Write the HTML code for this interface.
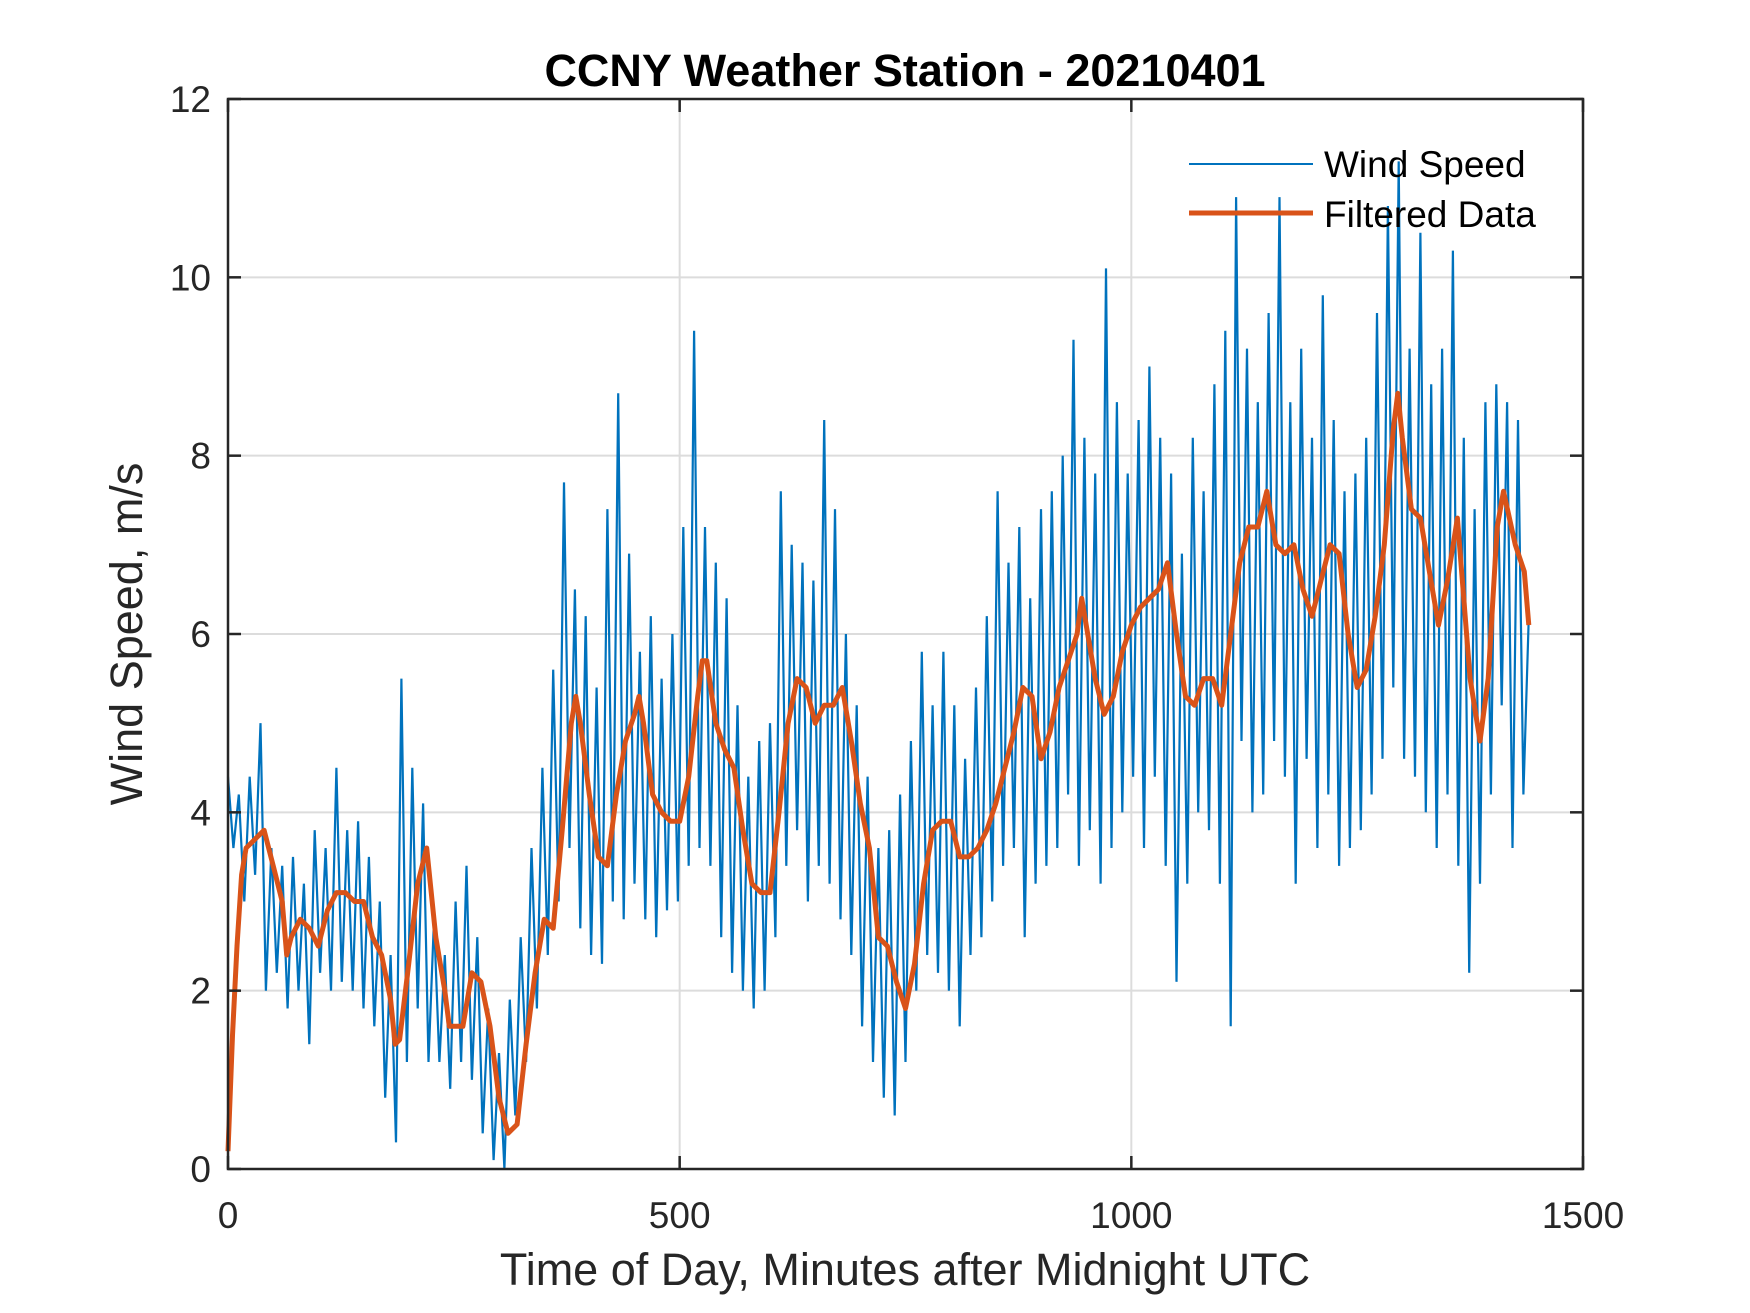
<!DOCTYPE html>
<html><head><meta charset="utf-8"><style>
html,body{margin:0;padding:0;background:#fff;}
svg{display:block;font-family:"Liberation Sans",Arial,sans-serif;}
</style></head><body>
<svg id="chart" width="1750" height="1313" viewBox="0 0 1750 1313">
<rect x="0" y="0" width="1750" height="1313" fill="#fff"/>
<g id="grid"></g>
<g id="series"></g>
<g id="axes"></g>
<text x="905" y="86" text-anchor="middle" font-size="45" font-weight="bold" fill="#000">CCNY Weather Station - 20210401</text>
<text x="905" y="1285" text-anchor="middle" font-size="45" fill="#262626">Time of Day, Minutes after Midnight UTC</text>
<text x="0" y="0" transform="translate(142,634) rotate(-90)" text-anchor="middle" font-size="45" fill="#262626">Wind Speed, m/s</text>
<g>
<line x1="1189" y1="164" x2="1313" y2="164" stroke="#0072BD" stroke-width="2"/>
<text x="1324" y="177" font-size="37" fill="#000">Wind Speed</text>
<line x1="1189" y1="213" x2="1313" y2="213" stroke="#D95319" stroke-width="5"/>
<text x="1324" y="227" font-size="37" fill="#000">Filtered Data</text>
</g>
</svg>
<script>
const xTicks = [0, 500, 1000, 1500];
const yTicks = [0, 2, 4, 6, 8, 10, 12];
const rawStep = 6;
const rawValues = [4.4,3.6,4.2,3.0,4.4,3.3,5.0,2.0,3.6,2.2,3.4,
1.8,3.5,2.0,3.2,1.4,3.8,2.2,3.6,2.0,4.5,
2.1,3.8,2.0,3.9,1.8,3.5,1.6,3.0,0.8,2.4,
0.3,5.5,1.2,4.5,1.8,4.1,1.2,2.8,1.2,2.4,
0.9,3.0,1.2,3.4,1.0,2.6,0.4,1.8,0.1,1.3,
0.0,1.9,0.6,2.6,1.2,3.6,1.8,4.5,2.4,5.6,
3.0,7.7,3.6,6.5,2.7,6.2,2.4,5.4,2.3,7.4,
3.0,8.7,2.8,6.9,3.2,5.8,2.8,6.2,2.6,5.5,
2.9,6.0,3.0,7.2,3.4,9.4,3.6,7.2,3.4,6.8,
2.6,6.4,2.2,5.2,2.0,4.4,1.8,4.8,2.0,5.0,
2.6,7.6,3.4,7.0,3.8,6.8,3.0,6.6,3.4,8.4,
3.2,7.4,2.8,6.0,2.4,5.2,1.6,4.4,1.2,3.6,
0.8,3.8,0.6,4.2,1.2,4.8,2.0,5.8,2.4,5.2,
2.2,5.8,2.0,5.2,1.6,4.6,2.4,5.4,2.6,6.2,
3.0,7.6,3.4,6.8,3.6,7.2,2.6,6.4,3.2,7.4,
3.4,7.6,3.6,8.0,4.2,9.3,3.4,8.2,3.8,7.8,
3.2,10.1,3.6,8.6,4.0,7.8,4.4,8.4,3.6,9.0,
4.4,8.2,3.4,7.8,2.1,6.9,3.2,8.2,4.0,7.6,
3.8,8.8,3.2,9.4,1.6,10.9,4.8,9.2,4.0,8.6,
4.2,9.6,4.8,10.9,4.4,8.6,3.2,9.2,4.6,8.2,
3.6,9.8,4.2,8.4,3.4,7.6,3.6,7.8,3.8,8.2,
4.2,9.6,4.6,10.8,5.4,11.3,4.6,9.2,4.4,10.5,
4.0,8.8,3.6,9.2,4.2,10.3,3.4,8.2,2.2,7.4,
3.2,8.6,4.2,8.8,5.2,8.6,3.6,8.4,4.2,6.2];
const filtTimes = [0,5,10,15,20,30,40,50,60,65,70,80,90,100,110,120,130,140,150,160,170,180,185,190,200,210,220,230,240,245,260,270,280,290,300,310,320,330,340,350,360,370,380,385,390,400,410,420,430,440,450,455,460,470,480,490,500,510,520,525,530,540,550,560,570,580,590,600,610,620,630,640,650,660,670,680,690,700,710,720,730,740,750,760,770,780,790,800,810,820,830,840,850,860,870,880,890,900,910,920,930,940,945,950,960,970,980,990,1000,1010,1020,1030,1040,1050,1060,1070,1080,1090,1100,1110,1120,1130,1140,1150,1160,1170,1180,1190,1200,1210,1220,1230,1240,1250,1260,1270,1280,1290,1295,1300,1310,1320,1330,1340,1350,1361,1375,1386,1395,1405,1412,1425,1435,1440];
const filtValues = [0.2,1.5,2.5,3.3,3.6,3.7,3.8,3.4,3.0,2.4,2.6,2.8,2.7,2.5,2.9,3.1,3.1,3.0,3.0,2.6,2.4,1.9,1.4,1.45,2.3,3.2,3.6,2.6,2.0,1.6,1.6,2.2,2.1,1.6,0.8,0.4,0.5,1.4,2.2,2.8,2.7,3.8,5.0,5.3,5.0,4.2,3.5,3.4,4.2,4.8,5.1,5.3,5.0,4.2,4.0,3.9,3.9,4.4,5.3,5.7,5.7,5.0,4.7,4.5,3.8,3.2,3.1,3.1,4.0,5.0,5.5,5.4,5.0,5.2,5.2,5.4,4.8,4.1,3.6,2.6,2.5,2.1,1.8,2.3,3.2,3.8,3.9,3.9,3.5,3.5,3.6,3.8,4.1,4.5,4.9,5.4,5.3,4.6,4.9,5.4,5.7,6.0,6.4,6.1,5.5,5.1,5.3,5.8,6.1,6.3,6.4,6.5,6.8,6.0,5.3,5.2,5.5,5.5,5.2,6.0,6.8,7.2,7.2,7.6,7.0,6.9,7.0,6.5,6.2,6.6,7.0,6.9,6.0,5.4,5.6,6.2,7.0,8.3,8.7,8.2,7.4,7.3,6.7,6.1,6.6,7.3,5.5,4.8,5.5,7.2,7.6,7.0,6.7,6.1];

const X0=228, X1=1583, Y0=1169, Y1=99;
const xMin=0,xMax=1500,yMin=0,yMax=12;
function sx(v){return X0+(v-xMin)/(xMax-xMin)*(X1-X0);}
function sy(v){return Y0-(v-yMin)/(yMax-yMin)*(Y0-Y1);}
const NS="http://www.w3.org/2000/svg";
function mk(tag,attrs){const e=document.createElementNS(NS,tag);for(const k in attrs)e.setAttribute(k,attrs[k]);return e;}
const grid=document.getElementById('grid'), axes=document.getElementById('axes'), series=document.getElementById('series');

xTicks.forEach(t=>{
  if(t>xMin&&t<xMax){const g=mk('line',{x1:sx(t),x2:sx(t),y1:Y1,y2:Y0,stroke:'#dcdcdc','stroke-width':2});
  
  
  grid.appendChild(g);}
  [[Y0,Y0-13],[Y1,Y1+13]].forEach(p=>{const tk=mk('line',{x1:sx(t),x2:sx(t),y1:p[0],y2:p[1],stroke:'#262626','stroke-width':2.5});
  
  
  axes.appendChild(tk);});
  const lb=mk('text',{x:sx(t),y:Y0+59,'text-anchor':'middle','font-size':37,fill:'#262626'});
  lb.textContent=t;
  
  
  axes.appendChild(lb);
});
yTicks.forEach(t=>{
  if(t>yMin&&t<yMax){const g=mk('line',{x1:X0,x2:X1,y1:sy(t),y2:sy(t),stroke:'#dcdcdc','stroke-width':2});
  
  
  grid.appendChild(g);}
  [[X0,X0+13],[X1,X1-13]].forEach(p=>{const tk=mk('line',{x1:p[0],x2:p[1],y1:sy(t),y2:sy(t),stroke:'#262626','stroke-width':2.5});
  
  
  axes.appendChild(tk);});
  const lb=mk('text',{x:X0-17,y:sy(t)+13,'text-anchor':'end','font-size':37,fill:'#262626'});
  lb.textContent=t;
  
  
  axes.appendChild(lb);
});
const box=mk('rect',{x:X0,y:Y1,width:X1-X0,height:Y0-Y1,fill:'none',stroke:'#262626','stroke-width':2.5});


axes.appendChild(box);

let d=rawValues.map((v,i)=>(i?'L':'M')+sx(i*rawStep).toFixed(1)+','+sy(v).toFixed(1)).join(' ');
const raw=mk('path',{d:d,fill:'none',stroke:'#0072BD','stroke-width':2.2,'stroke-linejoin':'miter'});


series.appendChild(raw);
let d2=filtValues.map((v,i)=>(i?'L':'M')+sx(filtTimes[i]).toFixed(1)+','+sy(v).toFixed(1)).join(' ');
const fl=mk('path',{d:d2,fill:'none',stroke:'#D95319','stroke-width':5,'stroke-linejoin':'round'});


series.appendChild(fl);
</script>
</body></html>
